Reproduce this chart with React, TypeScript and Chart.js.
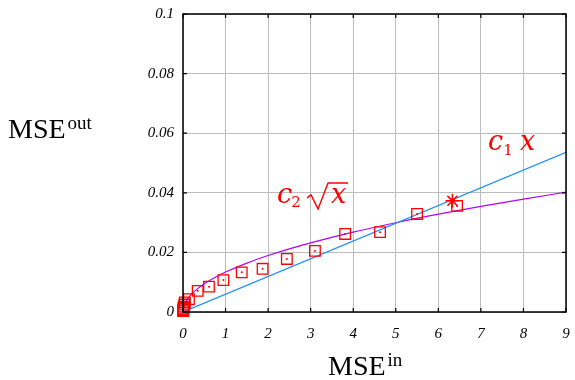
import React, { useEffect, useRef } from "react";
import { Chart, registerables } from "chart.js";

Chart.register(...registerables);

// Measured points (MSE_in, MSE_out)
const pointsX = [0.003, 0.006, 0.01, 0.015, 0.02, 0.03, 0.045, 0.14, 0.345, 0.61, 0.95, 1.38, 1.87, 2.44, 3.1, 3.81, 4.63, 5.5, 6.44];
const pointsY = [0.0003, 0.0006, 0.001, 0.0014, 0.0018, 0.0025, 0.0032, 0.0043, 0.0071, 0.0085, 0.0107, 0.0133, 0.0145, 0.0178, 0.0205, 0.0262, 0.0268, 0.0329, 0.0356];

// Highlighted point
const starX = [6.33];
const starY = [0.0373];

// Linear fit c1 x
const linX = [0, 9];
const linY = [0, 0.0536];

// Square-root fit c2 sqrt(x)
const sqrtX = [0, 0.02, 0.05, 0.1, 0.2, 0.35, 0.5, 0.75, 1, 1.5, 2, 2.5, 3, 4, 5, 6, 7, 8, 9];
const sqrtY = [0, 0.0019, 0.003, 0.00424, 0.00599, 0.00793, 0.00948, 0.0116, 0.0134, 0.01641, 0.01895, 0.02119, 0.02321, 0.0268, 0.02996, 0.03282, 0.03545, 0.0379, 0.0402];

const xMin = 0, xMax = 9, xStep = 1;
const yMin = 0, yMax = 0.1, yStep = 0.02;

const zip = (xs: number[], ys: number[]) => xs.map((x, i) => ({ x, y: ys[i] }));

const overlay = {
  id: "overlay",
  afterDraw(chart: any) {
    const ctx = chart.ctx as CanvasRenderingContext2D;
    const a = chart.chartArea;
    const xs = chart.scales.x;
    const ys = chart.scales.y;
    ctx.save();
    // frame
    ctx.strokeStyle = "#000";
    ctx.lineWidth = 1.5;
    ctx.strokeRect(a.left, a.top, a.right - a.left, a.bottom - a.top);
    // inward ticks
    ctx.lineWidth = 1.2;
    ctx.beginPath();
    xs.ticks.forEach((t: any) => {
      const px = xs.getPixelForValue(t.value);
      ctx.moveTo(px, a.bottom); ctx.lineTo(px, a.bottom - 4);
      ctx.moveTo(px, a.top); ctx.lineTo(px, a.top + 4);
    });
    ys.ticks.forEach((t: any) => {
      const py = ys.getPixelForValue(t.value);
      ctx.moveTo(a.left, py); ctx.lineTo(a.left + 4, py);
      ctx.moveTo(a.right, py); ctx.lineTo(a.right - 4, py);
    });
    ctx.stroke();

    // axis titles
    ctx.fillStyle = "#000";
    ctx.textBaseline = "alphabetic";
    ctx.textAlign = "left";
    const big = "28px 'Liberation Serif', serif";
    const sup = "19px 'Liberation Serif', serif";
    ctx.font = big;
    ctx.fillText("MSE", 8, 138);
    let w = ctx.measureText("MSE").width;
    ctx.font = sup;
    ctx.fillText("out", 8 + w + 2, 129);
    ctx.font = big;
    ctx.fillText("MSE", 328, 375);
    w = ctx.measureText("MSE").width;
    ctx.font = sup;
    ctx.fillText("in", 328 + w + 2, 366);

    // annotations
    ctx.fillStyle = "#ff0000";
    ctx.strokeStyle = "#ff0000";
    const it = "italic 27px 'DejaVu Serif', serif";
    const sub = "15px 'DejaVu Serif', serif";
    // c1 x
    let bx = xs.getPixelForValue(7.17);
    let by = ys.getPixelForValue(0.0544);
    ctx.font = it;
    ctx.fillText("c", bx, by);
    let cw = ctx.measureText("c").width;
    ctx.font = sub;
    ctx.fillText("1", bx + cw + 0, by + 5);
    ctx.font = it;
    ctx.fillText("x", bx + 32, by);
    // c2 sqrt(x)
    bx = xs.getPixelForValue(2.21);
    by = ys.getPixelForValue(0.0366);
    ctx.font = it;
    ctx.fillText("c", bx, by);
    cw = ctx.measureText("c").width;
    ctx.font = sub;
    ctx.fillText("2", bx + cw - 1, by + 4);
    ctx.lineWidth = 1.4;
    ctx.lineJoin = "miter";
    ctx.beginPath();
    ctx.moveTo(bx + 30, by - 5);
    ctx.lineTo(bx + 34, by - 8);
    ctx.lineTo(bx + 41, by + 6);
    ctx.lineTo(bx + 51, by - 20);
    ctx.lineTo(bx + 71, by - 20);
    ctx.stroke();
    ctx.font = it;
    ctx.fillText("x", bx + 54, by);
    ctx.restore();
  },
};

export default function App() {
  const ref = useRef<HTMLCanvasElement | null>(null);
  useEffect(() => {
    document.body.style.margin = "0";
    const tickFont = { family: "'Liberation Serif', serif", style: "italic" as const, size: 15 };
    const chart = new Chart(ref.current!, {
      type: "scatter",
      data: {
        datasets: [
          {
            data: zip(starX, starY),
            pointStyle: "star",
            pointRadius: 7,
            borderColor: "#ff0000",
            backgroundColor: "#ff0000",
            borderWidth: 1.5,
            showLine: false,
          },
          {
            data: zip(pointsX, pointsY),
            pointStyle: "circle",
            pointRadius: 1,
            borderWidth: 0,
            backgroundColor: "#ff0000",
            showLine: false,
            clip: false,
          },
          {
            data: zip(pointsX, pointsY),
            pointStyle: "rect",
            pointRadius: 7.5,
            borderColor: "#ff0000",
            backgroundColor: "rgba(0,0,0,0)",
            borderWidth: 1.3,
            showLine: false,
            clip: false,
          },
          {
            data: zip(linX, linY),
            showLine: true,
            pointRadius: 0,
            borderColor: "#1e8fff",
            borderWidth: 1.2,
          },
          {
            data: zip(sqrtX, sqrtY),
            showLine: true,
            pointRadius: 0,
            borderColor: "#b400ff",
            borderWidth: 1.2,
            cubicInterpolationMode: "monotone",
          },
        ] as any,
      },
      options: {
        animation: false,
        responsive: false,
        layout: { padding: { top: 14, right: 9, left: 0, bottom: 0 } },
        plugins: { legend: { display: false }, tooltip: { enabled: false } },
        scales: {
          x: {
            type: "linear",
            min: xMin,
            max: xMax,
            ticks: { stepSize: xStep, font: tickFont, color: "#000", padding: 13, maxRotation: 0 },
            grid: { color: "#bdbdbd", drawTicks: false, lineWidth: 1 },
            border: { display: false },
            afterFit: (s: any) => { s.height = 68; s.paddingLeft = 0; s.paddingRight = 0; },
          },
          y: {
            type: "linear",
            min: yMin,
            max: yMax,
            ticks: {
              stepSize: yStep,
              font: tickFont,
              color: "#000",
              padding: 9,
              callback: (v: any) => String(Number(Number(v).toFixed(2))),
            },
            grid: { color: "#bdbdbd", drawTicks: false, lineWidth: 1 },
            border: { display: false },
            afterFit: (s: any) => { s.width = 183; s.paddingTop = 0; s.paddingBottom = 0; },
          },
        },
      } as any,
      plugins: [overlay],
    });
    return () => chart.destroy();
  }, []);
  return (
    <div style={{ width: 575, height: 380 }}>
      <canvas ref={ref} width={575} height={380} />
    </div>
  );
}
